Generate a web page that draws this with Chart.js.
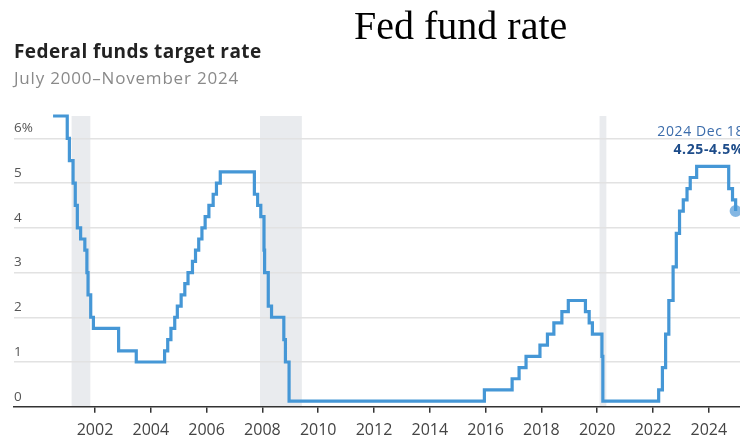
<!DOCTYPE html>
<html>
<head>
<meta charset="utf-8">
<script src="https://cdn.jsdelivr.net/npm/chart.js@4.4.1/dist/chart.umd.min.js"></script>
<style>
  body { margin: 0; background: #fff; }
  #wrap { position: relative; width: 740px; height: 439px; overflow: hidden; }
  #c { position: absolute; left: 0; top: 0; }
  .txt { position: absolute; white-space: nowrap; }
  #topTitle { left: 354px; top: 5.8px; font: 40px/40px "Liberation Serif", "Times New Roman", serif; color: #000; }
  #title { left: 14px; top: 42.4px; font: bold 19px/19px "Open Sans", sans-serif; letter-spacing: 0.4px; color: #222; }
  #subtitle { left: 14px; top: 68.9px; font: 17px/17px "Open Sans", sans-serif; letter-spacing: 0.8px; color: #8a8a8a; }
</style>
</head>
<body>
<div id="wrap">
  <canvas id="c" width="740" height="439"></canvas>
  <div class="txt" id="topTitle">Fed fund rate</div>
  <div class="txt" id="title">Federal funds target rate</div>
  <div class="txt" id="subtitle">July 2000–November 2024</div>
</div>
<script>
// dates where the target changed, and the new rate (midpoint once it became a range)
const changeDates = [
    '2000-07-01', '2001-01-03', '2001-01-31', '2001-03-20', '2001-04-18', '2001-05-15',
    '2001-06-27', '2001-08-21', '2001-09-17', '2001-10-02', '2001-11-06', '2001-12-11',
    '2002-11-06', '2003-06-25', '2004-06-30', '2004-08-10', '2004-09-21', '2004-11-10',
    '2004-12-14', '2005-02-02', '2005-03-22', '2005-05-03', '2005-06-30', '2005-08-09',
    '2005-09-20', '2005-11-01', '2005-12-13', '2006-01-31', '2006-03-28', '2006-05-10',
    '2006-06-29', '2007-09-18', '2007-10-31', '2007-12-11', '2008-01-22', '2008-01-30',
    '2008-03-18', '2008-04-30', '2008-10-08', '2008-10-29', '2008-12-16', '2015-12-16',
    '2016-12-14', '2017-03-15', '2017-06-14', '2017-12-13', '2018-03-21', '2018-06-13',
    '2018-09-26', '2018-12-19', '2019-07-31', '2019-09-18', '2019-10-30', '2020-03-03',
    '2020-03-15', '2022-03-16', '2022-05-04', '2022-06-15', '2022-07-27', '2022-09-21',
    '2022-11-02', '2022-12-14', '2023-02-01', '2023-03-22', '2023-05-03', '2023-07-26',
    '2024-09-18', '2024-11-07', '2024-12-18'
];
const targetRates = [
    6.5, 6.0, 5.5, 5.0, 4.5, 4.0,
    3.75, 3.5, 3.0, 2.5, 2.0, 1.75,
    1.25, 1.0, 1.25, 1.5, 1.75, 2.0,
    2.25, 2.5, 2.75, 3.0, 3.25, 3.5,
    3.75, 4.0, 4.25, 4.5, 4.75, 5.0,
    5.25, 4.75, 4.5, 4.25, 3.5, 3.0,
    2.25, 2.0, 1.5, 1.0, 0.125, 0.375,
    0.625, 0.875, 1.125, 1.375, 1.625, 1.875,
    2.125, 2.375, 2.125, 1.875, 1.625, 1.125,
    0.125, 0.375, 0.875, 1.625, 2.375, 3.125,
    3.875, 4.375, 4.625, 4.875, 5.125, 5.375,
    4.875, 4.625, 4.375
];

const recessionStarts = ['2001-03-01', '2007-12-01', '2020-02-01'];
const recessionEnds = ['2001-11-01', '2009-06-01', '2020-04-30'];

const xTicks = [2002, 2004, 2006, 2008, 2010, 2012, 2014, 2016, 2018, 2020, 2022, 2024];
const yTicks = [0, 1, 2, 3, 4, 5, 6];

const latestLabelDate = '2024 Dec 18';
const latestLabelRange = '4.25-4.5%';

function toYear(s) {
    const [y, m, d] = s.split('-').map(Number);
    const start = Date.UTC(y, 0, 1), end = Date.UTC(y + 1, 0, 1);
    return y + (Date.UTC(y, m - 1, d) - start) / (end - start);
}

const lineColor = '#4597d6';
const lastIdx = changeDates.length - 1;

const recessionShading = {
    id: 'recessionShading',
    beforeDraw(chart) {
        const {ctx, chartArea, scales: {x}} = chart;
        ctx.save();
        ctx.fillStyle = '#e9ebee';
        recessionStarts.forEach((s, i) => {
            const x0 = x.getPixelForValue(toYear(s));
            const x1 = x.getPixelForValue(toYear(recessionEnds[i]));
            ctx.fillRect(x0, chartArea.top, x1 - x0, chartArea.bottom - chartArea.top);
        });
        ctx.restore();
    }
};

const latestLabel = {
    id: 'latestLabel',
    afterDatasetsDraw(chart) {
        const {ctx, chartArea, scales: {y}} = chart;
        const py = y.getPixelForValue(targetRates[lastIdx]);
        ctx.save();
        ctx.textAlign = 'right';
        ctx.textBaseline = 'alphabetic';
        ctx.letterSpacing = '0.6px';
        ctx.font = '14px "Open Sans"';
        ctx.fillStyle = '#3b6cab';
        ctx.fillText(latestLabelDate, chartArea.right + 4, py - 75);
        ctx.font = 'bold 14px "Open Sans"';
        ctx.fillStyle = '#1d4c8a';
        ctx.fillText(latestLabelRange, chartArea.right + 4, py - 57.5);
        ctx.restore();
    }
};

new Chart(document.getElementById('c').getContext('2d'), {
    type: 'line',
    data: {
        datasets: [{
            data: changeDates.map((d, i) => ({x: toYear(d), y: targetRates[i]})),
            borderColor: lineColor,
            borderWidth: 3.2,
            stepped: true,
            pointRadius: 0,
            fill: false,
            clip: false
        }, {
            data: [{x: toYear(changeDates[lastIdx]), y: targetRates[lastIdx]}],
            showLine: false,
            pointRadius: 6,
            pointBorderWidth: 0,
            pointBackgroundColor: 'rgba(110, 170, 222, 0.85)',
            clip: false
        }]
    },
    options: {
        responsive: false,
        animation: false,
        layout: {autoPadding: false, padding: {left: 14, top: 116, right: 0, bottom: 0}},
        plugins: {legend: {display: false}, tooltip: {enabled: false}},
        scales: {
            x: {
                type: 'linear',
                min: 1999.097,
                max: 2025.118,
                afterBuildTicks: s => { s.ticks = xTicks.map(v => ({value: v})); },
                afterFit: s => { s.height = 32.3; s.paddingLeft = 0; s.paddingRight = 0; },
                grid: {drawOnChartArea: false, drawTicks: true, tickLength: 6, color: '#333', lineWidth: 1.5},
                border: {display: true, color: '#333', width: 1.5},
                ticks: {
                    font: {family: '"Open Sans"', size: 16},
                    color: '#444',
                    padding: 8,
                    maxRotation: 0,
                    autoSkip: false,
                    callback: v => String(v)
                }
            },
            y: {
                min: 0,
                max: 6.5,
                afterBuildTicks: s => { s.ticks = yTicks.map(v => ({value: v})); },
                afterFit: s => { s.width = 0; s.paddingTop = 0; s.paddingBottom = 0; },
                grid: {
                    drawTicks: false,
                    lineWidth: 1.5,
                    color: c => (c.tick && c.tick.value === 0) ? 'rgba(0,0,0,0)' : '#e2e2e2'
                },
                border: {display: false},
                ticks: {
                    mirror: true,
                    padding: 0,
                    labelOffset: -10,
                    font: {family: '"Open Sans"', size: 13.5},
                    color: '#555',
                    callback: v => v === 6 ? '6%' : String(v)
                }
            }
        }
    },
    plugins: [recessionShading, latestLabel]
});
</script>
</body>
</html>
